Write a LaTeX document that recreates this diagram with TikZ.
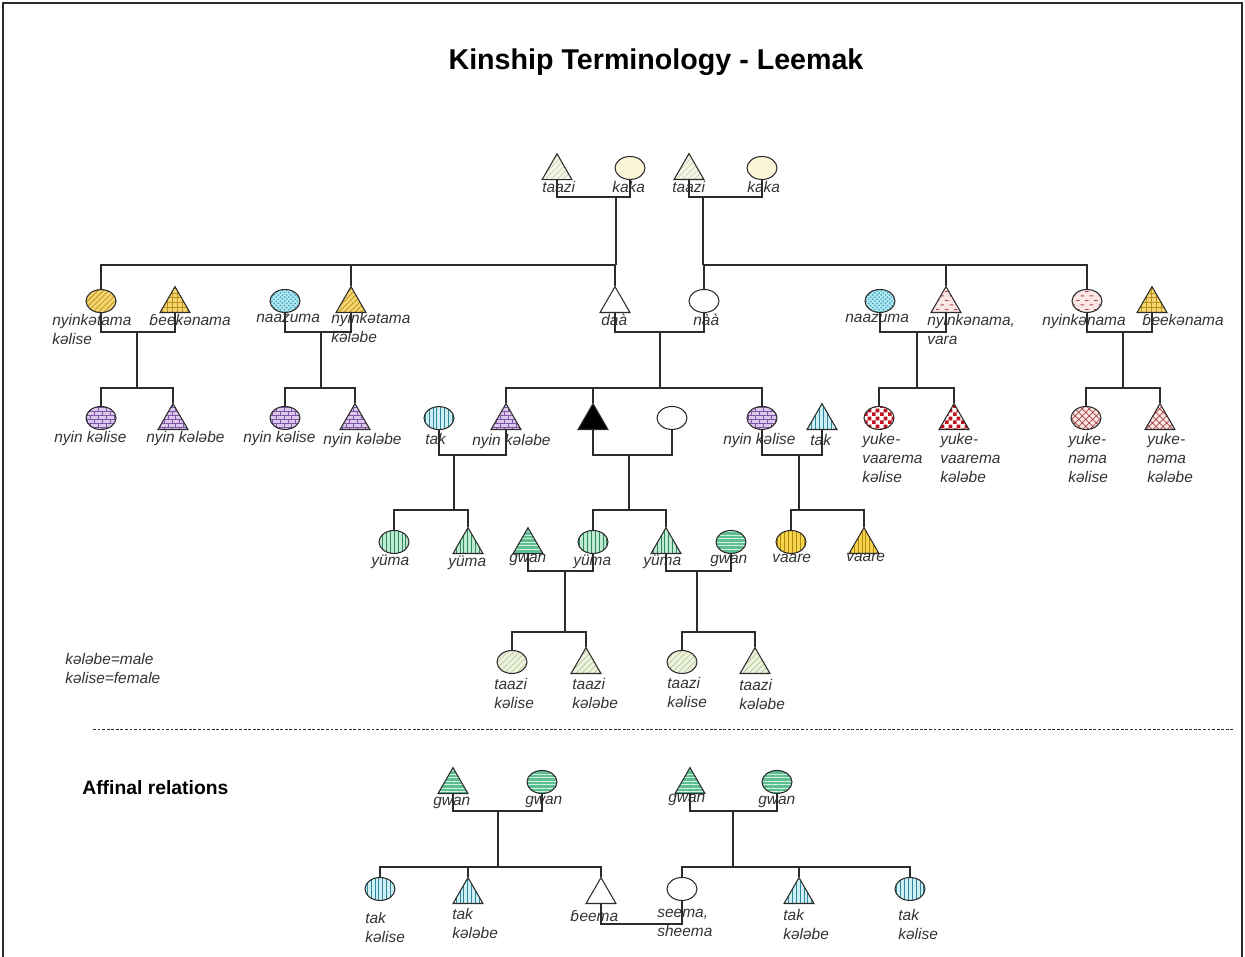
\documentclass[tikz,border=0pt]{standalone}
\usepackage{fontspec}
\setmainfont{Liberation Sans}
\newfontfamily\hookfont{DejaVu Sans}
\newcommand{\hb}{{\hookfont\itshape\fontsize{8.2}{10.7}\selectfont ɓ}}
\usepackage{tikz}
\usepackage{xcolor}
\usetikzlibrary{shapes.geometric,patterns.meta}

\definecolor{linec}{HTML}{2B2B2B}
\definecolor{textc}{HTML}{333333}
\definecolor{kakaC}{HTML}{FAF6D6}
\definecolor{paleC}{HTML}{F3F5EA}
\definecolor{paleD}{HTML}{C9D6A6}
\definecolor{goldC}{HTML}{F6D670}
\definecolor{goldD}{HTML}{B98F1E}
\definecolor{cyanC}{HTML}{B3E8F2}
\definecolor{cyanD}{HTML}{3FA8BE}
\definecolor{pinkC}{HTML}{FBE6E6}
\definecolor{pinkD}{HTML}{A84848}
\definecolor{lilaC}{HTML}{DCC8EA}
\definecolor{lilaD}{HTML}{7E56A6}
\definecolor{takC}{HTML}{CDEFF4}
\definecolor{takD}{HTML}{2E8798}
\definecolor{redD}{HTML}{C4101C}
\definecolor{yumaC}{HTML}{C0E9D2}
\definecolor{yumaD}{HTML}{2C8A5E}
\definecolor{gwanC}{HTML}{5DBE90}
\definecolor{gwanD}{HTML}{D8F2E4}
\definecolor{vaareC}{HTML}{F6D44C}
\definecolor{vaareD}{HTML}{AE8610}
\definecolor{tzC}{HTML}{EEF2E0}
\definecolor{tzD}{HTML}{B5C98E}

\pgfdeclarepatternformonly{tinybricks}{\pgfqpoint{-0.5pt}{-0.5pt}}{\pgfqpoint{5pt}{5.1pt}}{\pgfqpoint{4.4pt}{4.6pt}}{%
  \pgfsetlinewidth{0.45pt}%
  \pgfpathmoveto{\pgfqpoint{-0.5pt}{0pt}}\pgfpathlineto{\pgfqpoint{5pt}{0pt}}%
  \pgfpathmoveto{\pgfqpoint{-0.5pt}{2.3pt}}\pgfpathlineto{\pgfqpoint{5pt}{2.3pt}}%
  \pgfpathmoveto{\pgfqpoint{1.1pt}{0pt}}\pgfpathlineto{\pgfqpoint{1.1pt}{2.3pt}}%
  \pgfpathmoveto{\pgfqpoint{3.3pt}{2.3pt}}\pgfpathlineto{\pgfqpoint{3.3pt}{4.6pt}}%
  \pgfusepath{stroke}}
\pgfdeclarepatternformonly{tinychecker}{\pgfqpoint{0pt}{0pt}}{\pgfqpoint{4.6pt}{4.6pt}}{\pgfqpoint{4.6pt}{4.6pt}}{%
  \pgfpathrectangle{\pgfqpoint{0pt}{0pt}}{\pgfqpoint{2.3pt}{2.3pt}}%
  \pgfpathrectangle{\pgfqpoint{2.3pt}{2.3pt}}{\pgfqpoint{2.3pt}{2.3pt}}%
  \pgfusepath{fill}}
\pgfdeclarepatternformonly{tinygrid}{\pgfqpoint{-0.3pt}{-0.3pt}}{\pgfqpoint{3.1pt}{3.1pt}}{\pgfqpoint{2.8pt}{2.8pt}}{%
  \pgfsetlinewidth{0.4pt}%
  \pgfpathmoveto{\pgfqpoint{0pt}{-0.3pt}}\pgfpathlineto{\pgfqpoint{0pt}{3.1pt}}%
  \pgfpathmoveto{\pgfqpoint{-0.3pt}{0pt}}\pgfpathlineto{\pgfqpoint{3.1pt}{0pt}}%
  \pgfusepath{stroke}}
\pgfdeclarepatternformonly{tinydashes}{\pgfqpoint{0pt}{0pt}}{\pgfqpoint{5pt}{5pt}}{\pgfqpoint{5pt}{5pt}}{%
  \pgfsetlinewidth{0.45pt}%
  \pgfpathmoveto{\pgfqpoint{0.4pt}{1.2pt}}\pgfpathlineto{\pgfqpoint{2.4pt}{1.2pt}}%
  \pgfpathmoveto{\pgfqpoint{2.9pt}{3.7pt}}\pgfpathlineto{\pgfqpoint{4.9pt}{3.7pt}}%
  \pgfusepath{stroke}}
\pgfdeclarepatternformonly{tinydots}{\pgfqpoint{-0.6pt}{-0.6pt}}{\pgfqpoint{3pt}{3pt}}{\pgfqpoint{2.4pt}{2.4pt}}{%
  \pgfpathcircle{\pgfqpoint{0pt}{0pt}}{0.55pt}%
  \pgfpathcircle{\pgfqpoint{1.2pt}{1.2pt}}{0.55pt}%
  \pgfusepath{fill}}
\pgfdeclarepatternformonly{tinycross}{\pgfqpoint{-0.3pt}{-0.3pt}}{\pgfqpoint{4.3pt}{4.3pt}}{\pgfqpoint{4pt}{4pt}}{%
  \pgfsetlinewidth{0.4pt}%
  \pgfpathmoveto{\pgfqpoint{-0.3pt}{-0.3pt}}\pgfpathlineto{\pgfqpoint{4.3pt}{4.3pt}}%
  \pgfpathmoveto{\pgfqpoint{-0.3pt}{4.3pt}}\pgfpathlineto{\pgfqpoint{4.3pt}{-0.3pt}}%
  \pgfusepath{stroke}}

\begin{document}
\begin{tikzpicture}[
  x=0.02cm, y=-0.02cm,
  male/.style={draw=linec, line width=0.6pt, regular polygon, regular polygon sides=3, minimum size=0.69cm, inner sep=0pt, anchor=south},
  female/.style={draw=linec, line width=0.6pt, ellipse, minimum width=0.6cm, minimum height=0.46cm, inner sep=0pt, anchor=south},
  lab/.style={anchor=north west, inner sep=0pt, align=left, text=textc, font=\itshape\fontsize{8.8}{10.7}\selectfont},
  kin/.style={line width=0.6pt, draw=linec},
  taazi/.style={preaction={fill=paleC}, pattern={Lines[angle=45,distance=2.4pt,line width=0.4pt]}, pattern color=paleD},
  kaka/.style={fill=kakaC},
  goldhatch/.style={preaction={fill=goldC}, pattern={Lines[angle=45,distance=2.2pt,line width=0.45pt]}, pattern color=goldD},
  goldgrid/.style={preaction={fill=goldC}, pattern=tinygrid, pattern color=goldD},
  cyandots/.style={preaction={fill=cyanC}, pattern=tinydots, pattern color=cyanD},
  pinkdash/.style={preaction={fill=pinkC}, pattern=tinydashes, pattern color=pinkD},
  bricks/.style={preaction={fill=lilaC}, pattern=tinybricks, pattern color=lilaD},
  tak/.style={preaction={fill=takC}, pattern={Lines[angle=90,distance=2.2pt,line width=0.45pt]}, pattern color=takD},
  redcheck/.style={preaction={fill=white}, pattern=tinychecker, pattern color=redD},
  pinkcross/.style={preaction={fill=pinkC}, pattern=tinycross, pattern color=pinkD},
  yuma/.style={preaction={fill=yumaC}, pattern={Lines[angle=90,distance=2.2pt,line width=0.45pt]}, pattern color=yumaD},
  gwan/.style={preaction={fill=gwanC}, pattern={Lines[angle=0,distance=2pt,line width=0.45pt]}, pattern color=gwanD},
  vaare/.style={preaction={fill=vaareC}, pattern={Lines[angle=90,distance=2.2pt,line width=0.45pt]}, pattern color=vaareD},
  tz/.style={preaction={fill=tzC}, pattern={Lines[angle=45,distance=2.4pt,line width=0.4pt]}, pattern color=tzD}
]
\useasboundingbox (0,0) rectangle (1245,957);
\draw[linec, line width=0.6pt] (3,957) -- (3,3) -- (1242,3) -- (1242,957);

\node[font=\bfseries\fontsize{16.3}{19}\selectfont] (title) at (656,62) {Kinship Terminology - Leemak};

% generation 1
\node[male, taazi] (t1) at (557,180) {};
\node[female, kaka] (k1) at (630,180) {};
\node[male, taazi] (t2) at (689,180) {};
\node[female, kaka] (k2) at (762,180) {};
\node[lab] (t1l) at (542,181) {taazi};
\node[lab] (k1l) at (612,181) {kaka};
\node[lab] (t2l) at (672,181) {taazi};
\node[lab] (k2l) at (747,181) {kaka};

% generation 2
\node[female, goldhatch] (a) at (101,313) {};
\node[male, goldgrid] (b) at (175,313) {};
\node[female, cyandots] (c) at (285,313) {};
\node[male, goldhatch] (d) at (351,313) {};
\node[male] (e) at (615,313) {};
\node[female] (f) at (704,313) {};
\node[female, cyandots] (g) at (880,313) {};
\node[male, pinkdash] (h) at (946,313) {};
\node[female, pinkdash] (i) at (1087,313) {};
\node[male, goldgrid] (j) at (1152,313) {};
\node[lab] (al) at (52,314) {nyinkətama\\kəlise};
\node[lab] (bl) at (149,314) {\hb eekənama};
\node[lab] (cl) at (256,314) {naazuma};
\node[lab] (dl) at (331,312) {nyinkətama\\kələbe};
\node[lab] (el) at (601,314) {daà};
\node[lab] (fl) at (693,314) {nàà};
\node[lab] (gl) at (845,314) {naazuma};
\node[lab] (hl) at (927,314) {nyinkənama,\\vara};
\node[lab] (il) at (1042,314) {nyinkənama};
\node[lab] (jl) at (1142,314) {\hb eekənama};

% generation 3
\node[female, bricks] (a1) at (101,430) {};
\node[male, bricks] (b1) at (173,430) {};
\node[female, bricks] (c1) at (285,430) {};
\node[male, bricks] (d1) at (355,430) {};
\node[female, tak] (tk1) at (439,430) {};
\node[male, bricks] (nk) at (506,430) {};
\node[male, fill=black] (ego) at (593,430) {};
\node[female] (wf) at (672,430) {};
\node[female, bricks] (nkf) at (762,430) {};
\node[male, tak] (tk2) at (822,430) {};
\node[female, redcheck] (yv1) at (879,430) {};
\node[male, redcheck] (yv2) at (954,430) {};
\node[female, pinkcross] (yn1) at (1086,430) {};
\node[male, pinkcross] (yn2) at (1160,430) {};
\node[lab] (a1l) at (54,431) {nyin kəlise};
\node[lab] (b1l) at (146,431) {nyin kələbe};
\node[lab] (c1l) at (243,431) {nyin kəlise};
\node[lab] (d1l) at (323,433) {nyin kələbe};
\node[lab] (tk1l) at (425,433) {tak};
\node[lab] (nkl) at (472,434) {nyin kələbe};
\node[lab] (nkfl) at (723,433) {nyin kəlise};
\node[lab] (tk2l) at (810,434) {tak};
\node[lab] (yv1l) at (862,433) {yuke-\\vaarema\\kəlise};
\node[lab] (yv2l) at (940,433) {yuke-\\vaarema\\kələbe};
\node[lab] (yn1l) at (1068,433) {yuke-\\nəma\\kəlise};
\node[lab] (yn2l) at (1147,433) {yuke-\\nəma\\kələbe};

% generation 4
\node[female, yuma] (y1) at (394,554) {};
\node[male, yuma] (y2) at (468,554) {};
\node[male, gwan] (gw1) at (528,554) {};
\node[female, yuma] (y3) at (593,554) {};
\node[male, yuma] (y4) at (666,554) {};
\node[female, gwan] (gw2) at (731,554) {};
\node[female, vaare] (v1) at (791,554) {};
\node[male, vaare] (v2) at (864,554) {};
\node[lab] (y1l) at (371,555) {yüma};
\node[lab] (y2l) at (448,556) {yüma};
\node[lab] (gw1l) at (509,554) {gwan};
\node[lab] (y3l) at (573,555) {yüma};
\node[lab] (y4l) at (643,555) {yüma};
\node[lab] (gw2l) at (710,555) {gwan};
\node[lab] (v1l) at (772,554) {vaare};
\node[lab] (v2l) at (846,553) {vaare};

% generation 5
\node[female, tz] (tz1) at (512,674) {};
\node[male, tz] (tz2) at (586,674) {};
\node[female, tz] (tz3) at (682,674) {};
\node[male, tz] (tz4) at (755,674) {};
\node[lab] (tz1l) at (494,678) {taazi\\kəlise};
\node[lab] (tz2l) at (572,678) {taazi\\kələbe};
\node[lab] (tz3l) at (667,677) {taazi\\kəlise};
\node[lab] (tz4l) at (739,679) {taazi\\kələbe};

\node[lab, font=\itshape\fontsize{8.8}{11}\selectfont] (legend) at (65,653) {kələbe=male\\kəlise=female};

% marriage and sibling lines
\coordinate (m1) at (616,197);
\coordinate (m2) at (703,197);
\coordinate (s1) at (616,265);
\coordinate (s2) at (703,265);
\draw[kin] (t1.south) |- (m1) -| (k1.south);
\draw[kin] (t2.south) |- (m2) -| (k2.south);
\draw[kin] (m1) -- (s1);
\draw[kin] (m2) -- (s2);
\draw[kin] (a.north) |- (s1) -| (e.north);
\draw[kin] (d.north) -- (d.north |- s1);
\draw[kin] (f.north) |- (s2) -| (i.north);
\draw[kin] (h.north) -- (h.north |- s2);

\coordinate (m3) at (137,332);
\coordinate (m4) at (321,332);
\coordinate (m5) at (660,332);
\coordinate (m6) at (917,332);
\coordinate (m7) at (1123,332);
\draw[kin] (a.south) |- (m3) -| (b.south);
\draw[kin] (c.south) |- (m4) -| (d.south);
\draw[kin] (e.south) |- (m5) -| (f.south);
\draw[kin] (g.south) |- (m6) -| (h.south);
\draw[kin] (i.south) |- (m7) -| (j.south);

\coordinate (s3) at (137,388);
\coordinate (s4) at (321,388);
\coordinate (s5) at (660,388);
\coordinate (s6) at (917,388);
\coordinate (s7) at (1123,388);
\draw[kin] (m3) -- (s3);
\draw[kin] (m4) -- (s4);
\draw[kin] (m5) -- (s5);
\draw[kin] (m6) -- (s6);
\draw[kin] (m7) -- (s7);
\draw[kin] (a1.north) |- (s3) -| (b1.north);
\draw[kin] (c1.north) |- (s4) -| (d1.north);
\draw[kin] (nk.north) |- (s5) -| (nkf.north);
\draw[kin] (ego.north) -- (ego.north |- s5);
\draw[kin] (yv1.north) |- (s6) -| (yv2.north);
\draw[kin] (yn1.north) |- (s7) -| (yn2.north);

\coordinate (m8) at (454,455);
\coordinate (m9) at (629,455);
\coordinate (m10) at (799,455);
\draw[kin] (tk1.south) |- (m8) -| (nk.south);
\draw[kin] (ego.south) |- (m9) -| (wf.south);
\draw[kin] (nkf.south) |- (m10) -| (tk2.south);

\coordinate (s8) at (454,510);
\coordinate (s9) at (629,510);
\coordinate (s10) at (799,510);
\draw[kin] (m8) -- (s8);
\draw[kin] (m9) -- (s9);
\draw[kin] (m10) -- (s10);
\draw[kin] (y1.north) |- (s8) -| (y2.north);
\draw[kin] (y3.north) |- (s9) -| (y4.north);
\draw[kin] (v1.north) |- (s10) -| (v2.north);

\coordinate (m11) at (565,571);
\coordinate (m12) at (697,571);
\draw[kin] (gw1.south) |- (m11) -| (y3.south);
\draw[kin] (y4.south) |- (m12) -| (gw2.south);

\coordinate (s11) at (565,632);
\coordinate (s12) at (697,632);
\draw[kin] (m11) -- (s11);
\draw[kin] (m12) -- (s12);
\draw[kin] (tz1.north) |- (s11) -| (tz2.north);
\draw[kin] (tz3.north) |- (s12) -| (tz4.north);

% separator
\coordinate (sepL) at (93,729);
\coordinate (sepR) at (1235,729);
\draw[linec, line width=0.5pt, dash pattern=on 1.6pt off 1pt] (sepL) -- (sepR);

% affinal relations
\node[anchor=west, inner sep=0pt, font=\bfseries\fontsize{11}{13}\selectfont] (affinal) at (82,788) {Affinal relations};

\node[male, gwan] (ag1) at (453,794) {};
\node[female, gwan] (ag2) at (542,794) {};
\node[male, gwan] (ag3) at (690,794) {};
\node[female, gwan] (ag4) at (777,794) {};
\node[lab] (ag1l) at (433,797) {gwan};
\node[lab] (ag2l) at (525,796) {gwan};
\node[lab] (ag3l) at (668,794) {gwan};
\node[lab] (ag4l) at (758,796) {gwan};

\node[female, tak] (at1) at (380,901) {};
\node[male, tak] (at2) at (468,904) {};
\node[male] (be) at (601,904) {};
\node[female] (se) at (682,901) {};
\node[male, tak] (at3) at (799,904) {};
\node[female, tak] (at4) at (910,901) {};
\node[lab] (at1l) at (365,912) {tak\\kəlise};
\node[lab] (at2l) at (452,908) {tak\\kələbe};
\node[lab] (bel) at (570,910) {\hb eema};
\node[lab] (sel) at (657,909) {seema,\\sheema};
\node[lab] (at3l) at (783,909) {tak\\kələbe};
\node[lab] (at4l) at (898,909) {tak\\kəlise};

\coordinate (m13) at (498,811);
\coordinate (m14) at (733,811);
\coordinate (s13) at (498,867);
\coordinate (s14) at (733,867);
\coordinate (m15) at (682,924);
\draw[kin] (ag1.south) |- (m13) -| (ag2.south);
\draw[kin] (ag3.south) |- (m14) -| (ag4.south);
\draw[kin] (m13) -- (s13);
\draw[kin] (m14) -- (s14);
\draw[kin] (at1.north) |- (s13) -| (be.north);
\draw[kin] (at2.north) -- (at2.north |- s13);
\draw[kin] (se.north) |- (s14) -| (at4.north);
\draw[kin] (at3.north) -- (at3.north |- s14);
\draw[kin] (be.south) |- (m15) -- (se.south);
\end{tikzpicture}
\end{document}
